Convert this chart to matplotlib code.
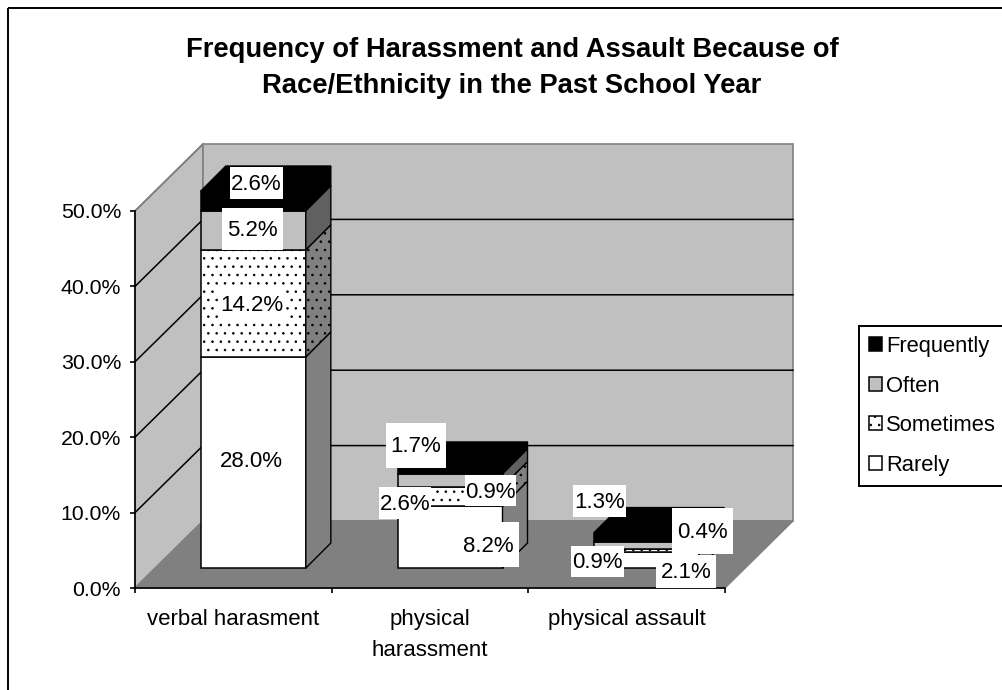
import matplotlib
matplotlib.use("Agg")
import matplotlib.pyplot as plt
from matplotlib.patches import Patch, Polygon, Rectangle
from matplotlib.transforms import Affine2D

plt.rcParams['font.family'] = ['Liberation Sans', 'DejaVu Sans']
plt.rcParams['hatch.linewidth'] = 0.6

categories = ["verbal harasment", "physical\nharassment", "physical assault"]
series = ["Rarely", "Sometimes", "Often", "Frequently"]
rarely = [28.0, 8.2, 2.1]
sometimes = [14.2, 2.6, 0.4]
often = [5.2, 1.7, 0.9]
frequently = [2.6, 0.9, 1.3]
values = [rarely, sometimes, often, frequently]
y_ticks = [0, 10, 20, 30, 40, 50]

# styles per series
front_col = ['white', 'white', '#c0c0c0', 'black']
side_col = ['#808080', '#808080', '#606060', 'black']
hatches = [None, '..', None, None]

# printed label text and its white box in pixels (x0, y0, x1, y1)
label_text = [["28.0%", "14.2%", "5.2%", "2.6%"],
              ["8.2%", "2.6%", "1.7%", "0.9%"],
              ["2.1%", "0.9%", "1.3%", "0.4%"]]
label_box = [[(218, 440, 284, 480), (218, 288, 285, 320), (222, 208, 283, 250), (230, 167, 283, 199)],
             [(457, 522, 519, 567), (379, 487, 431, 519), (386, 423, 446, 468), (465, 475, 516, 506)],
             [(656, 555, 716, 588), (571, 546, 624, 577), (573, 485, 626, 517), (672, 508, 733, 554)]]
font_px = 16

fig = plt.figure(figsize=(10.02, 6.9), dpi=100, facecolor='white')
ax = fig.add_axes([135/1002, 1-588/690, (725-135)/1002, (588-211)/690])
ax.set_xlim(0, 3)
ax.set_ylim(0, 50)
ax.patch.set_visible(False)
pix = Affine2D().scale(1/1002, -1/690).translate(0, 1) + fig.transFigure

ux = 590/3      # px per category
uy = 377/50     # px per percent
wall_dx, wall_dy = 68/ux, 67/uy
bar_dx, bar_dy = 20/ux, 20/uy
depth_x, depth_y = 25/ux, 25/uy
bar_w = 105/ux

# walls and floor
ax.add_patch(Polygon([(0, 0), (wall_dx, wall_dy), (wall_dx, 50+wall_dy), (0, 50)], closed=True,
                     fc='#c0c0c0', ec='#808080', lw=1.2, clip_on=False, zorder=1))
ax.add_patch(Polygon([(wall_dx, wall_dy), (3+wall_dx, wall_dy), (3+wall_dx, 50+wall_dy), (wall_dx, 50+wall_dy)],
                     closed=True, fc='#c0c0c0', ec='#808080', lw=1.2, clip_on=False, zorder=1))
ax.add_patch(Polygon([(0, 0), (3, 0), (3+wall_dx, wall_dy), (wall_dx, wall_dy)], closed=True,
                     fc='#808080', ec='#808080', lw=1, clip_on=False, zorder=1.5))
for t in y_ticks[1:-1]:
    ax.plot([0, wall_dx, 3+wall_dx], [t, t+wall_dy, t+wall_dy], color='black', lw=1.1, clip_on=False, zorder=1.2)
ax.plot([0, wall_dx], [50, 50+wall_dy], color='#808080', lw=1.2, clip_on=False, zorder=1.2)

# stacked bars
for i in range(3):
    x0 = i + 0.5 + bar_dx - bar_w/2
    x1 = x0 + bar_w
    base = bar_dy
    for s in range(4):
        v = values[s][i]
        ax.bar(x0, v, width=bar_w, bottom=base, align='edge', color=front_col[s], edgecolor='black',
               linewidth=1.1, hatch=hatches[s], clip_on=False, zorder=3)
        side = Polygon([(x1, base), (x1+depth_x, base+depth_y), (x1+depth_x, base+v+depth_y), (x1, base+v)],
                       closed=True, fc=side_col[s], ec='black', lw=1, hatch=hatches[s], clip_on=False, zorder=3)
        ax.add_patch(side)
        base += v
    ax.add_patch(Polygon([(x0, base), (x0+depth_x, base+depth_y), (x1+depth_x, base+depth_y), (x1, base)],
                         closed=True, fc='black', ec='black', lw=1, clip_on=False, zorder=3))

# value labels on white boxes
for i in range(3):
    for s in range(4):
        bx0, by0, bx1, by1 = label_box[i][s]
        fig.add_artist(Rectangle((bx0, by0), bx1-bx0, by1-by0, transform=pix, fc='white', ec='none', zorder=5))
        fig.text((bx0+bx1)/2/1002, 1-((by0+by1)/2+1.5)/690, label_text[i][s], ha='center', va='center',
                 fontsize=font_px, color='black', zorder=6)

# axes
for name in ['top', 'right']:
    ax.spines[name].set_visible(False)
for name in ['left', 'bottom']:
    ax.spines[name].set_linewidth(1.2)
    ax.spines[name].set_zorder(4)
ax.set_yticks(y_ticks)
ax.set_yticklabels([f"{t:.1f}%" for t in y_ticks], fontsize=15.3)
ax.tick_params(axis='y', direction='out', length=3.5, width=1.2, pad=6.5)
ax.set_xticks([0, 1, 2, 3])
ax.set_xticklabels([])
ax.tick_params(axis='x', direction='out', length=3.5, width=1.2)
ax.set_xticks([0.5, 1.5, 2.5], minor=True)
ax.set_xticklabels(categories, minor=True, fontsize=font_px, linespacing=1.65, va='top')
ax.tick_params(axis='x', which='minor', length=0, pad=15)

fig.text(512/1002, 1-68/690, "Frequency of Harassment and Assault Because of\nRace/Ethnicity in the Past School Year",
         ha='center', va='center', fontsize=19.7, fontweight='bold', linespacing=1.47)

handles = [Patch(fc=front_col[s], ec='black', lw=1.1, hatch=hatches[s]) for s in [3, 2, 1, 0]]
fig.legend(handles, [series[s] for s in [3, 2, 1, 0]], loc='upper left',
           bbox_to_anchor=(859/1002, 1-326/690), borderaxespad=0, fontsize=15.8, fancybox=False,
           framealpha=1, edgecolor='black', handlelength=0.6, handleheight=0.6, handletextpad=0.2,
           labelspacing=0.85, borderpad=0.45).get_frame().set_linewidth(1.4)

# chart border, runs off the right and bottom of the image
fig.add_artist(Rectangle((8, 8), 1100, 800, transform=pix, fc='none', ec='black', lw=1.4, zorder=0))

fig.savefig("out.png", dpi=100)
